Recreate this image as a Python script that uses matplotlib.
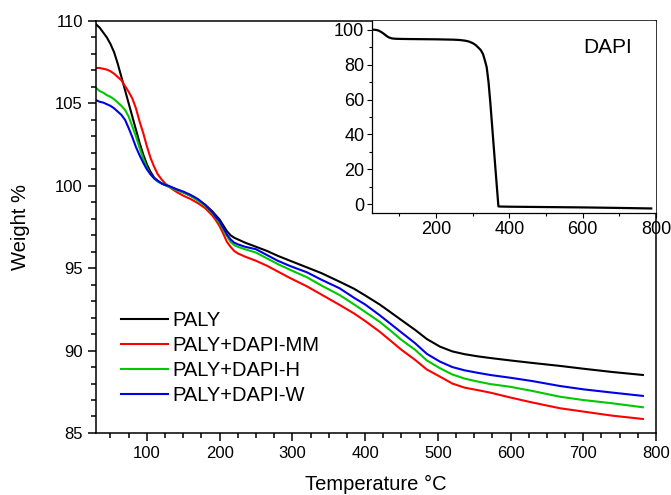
import numpy as np
import matplotlib
matplotlib.use("Agg")
import matplotlib.pyplot as plt
from matplotlib.ticker import MultipleLocator

plt.rcParams['font.family'] = ['Liberation Sans', 'DejaVu Sans']

# TGA curves (temperature in degC, weight in %)
temp = [30, 35, 40, 45, 50, 55, 60, 65, 70, 75, 80, 85, 90, 95, 100, 105, 110,
        115, 120, 125,
        130, 140, 150, 160, 170, 180, 190, 195, 200, 205, 210, 215, 220, 225,
        235, 250, 265, 280, 297,
        320, 340, 365, 385, 400, 420, 434, 450, 469, 485, 503, 520, 537, 555,
        572, 600, 630, 668, 700, 740, 782]

paly = [109.8, 109.6, 109.3, 109.0, 108.6, 108.1, 107.4, 106.6, 105.8, 105.0,
        104.2, 103.4, 102.6, 101.9, 101.3, 100.85, 100.5, 100.3, 100.15, 100.05,
        99.95, 99.8, 99.6, 99.4, 99.15, 98.85, 98.45, 98.2, 97.95, 97.6, 97.25,
        97.0, 96.85, 96.75, 96.55, 96.3, 96.05, 95.75, 95.45,
        95.05, 94.7, 94.18, 93.75, 93.35, 92.8, 92.36, 91.85, 91.25, 90.7, 90.24,
        89.95, 89.78, 89.65, 89.55, 89.4, 89.25, 89.07, 88.9, 88.7, 88.52]

paly_mm = [107.15, 107.15, 107.1, 107.05, 106.95, 106.8, 106.6, 106.4, 106.05,
           105.7, 105.3, 104.7, 103.9, 103.2, 102.4, 101.7, 101.15, 100.7, 100.4,
           100.15,
           99.95, 99.65, 99.4, 99.2, 98.95, 98.65, 98.2, 97.9, 97.55, 97.1, 96.6,
           96.3, 96.05, 95.9, 95.7, 95.45, 95.15, 94.8, 94.4,
           93.9, 93.4, 92.77, 92.25, 91.8, 91.15, 90.64, 90.05, 89.43, 88.85,
           88.42, 88.0, 87.75, 87.6, 87.45, 87.15, 86.85, 86.5, 86.3, 86.05, 85.85]

paly_h = [105.95, 105.75, 105.65, 105.5, 105.4, 105.25, 105.05, 104.85, 104.6,
          104.2, 103.6, 103.0, 102.3, 101.65, 101.1, 100.7, 100.45, 100.25,
          100.15, 100.05,
          99.95, 99.75, 99.6, 99.4, 99.1, 98.8, 98.35, 98.05, 97.75, 97.35, 96.95,
          96.6, 96.4, 96.3, 96.15, 95.95, 95.6, 95.25, 94.9,
          94.45, 93.95, 93.37, 92.8, 92.35, 91.75, 91.25, 90.65, 90.04, 89.4,
          88.93, 88.55, 88.3, 88.12, 87.97, 87.8, 87.55, 87.2, 87.0, 86.8, 86.56]

paly_w = [105.2, 105.1, 105.05, 104.95, 104.85, 104.7, 104.5, 104.3, 104.0,
          103.5, 102.95, 102.35, 101.85, 101.4, 101.0, 100.7, 100.45, 100.3,
          100.15, 100.05,
          100.0, 99.8, 99.65, 99.45, 99.2, 98.85, 98.4, 98.1, 97.85, 97.45, 97.05,
          96.75, 96.55, 96.45, 96.3, 96.15, 95.8, 95.45, 95.13,
          94.75, 94.3, 93.78, 93.2, 92.8, 92.15, 91.66, 91.1, 90.44, 89.8, 89.33,
          89.0, 88.8, 88.65, 88.52, 88.35, 88.15, 87.85, 87.65, 87.45, 87.25]

labels = ['PALY', 'PALY+DAPI-MM', 'PALY+DAPI-H', 'PALY+DAPI-W']
colors = ['black', '#ff0000', '#00c800', '#0000e6']

# inset: DAPI alone
dapi_temp = [25, 30, 35, 40, 45, 50, 55, 60, 65, 70, 75, 80, 90, 110, 150, 200,
             247, 265, 280, 290, 300, 308, 315, 322, 328, 333, 338, 343, 348,
             355, 362, 370, 375, 400, 500, 600, 700, 787]
dapi_w = [100, 100, 99.9, 99.7, 99.3, 98.7, 98.0, 97.2, 96.4, 95.7, 95.3, 95.0,
          94.8, 94.7, 94.6, 94.5, 94.3, 94.1, 93.7, 93.2, 92.3, 91.2, 89.8, 88.3,
          86.0, 82.5, 78.5, 70, 58, 39, 20, -1.2, -1.3, -1.4, -1.6, -1.8, -2.1,
          -2.4]

fig = plt.figure(figsize=(6.71, 4.95), dpi=100)
ax = fig.add_axes([0.143, 0.1253, 0.8346, 0.8323])

for ys, lab, c in zip([paly, paly_mm, paly_h, paly_w], labels, colors):
    ax.plot(temp, ys, color=c, lw=1.5, label=lab)

ax.set_xlim(30, 800)
ax.set_ylim(85, 110)
ax.xaxis.set_major_locator(MultipleLocator(100))
ax.xaxis.set_minor_locator(MultipleLocator(25))
ax.yaxis.set_major_locator(MultipleLocator(5))
ax.yaxis.set_minor_locator(MultipleLocator(1))
ax.tick_params(which='both', direction='out', top=False, right=False,
               width=1.1, labelsize=12)
ax.tick_params(which='major', length=6)
ax.tick_params(which='minor', length=3.5)
for s in ax.spines.values():
    s.set_linewidth(1.1)
ax.set_xlabel('Temperature °C', fontsize=14.5, labelpad=10)
ax.set_ylabel('Weight %', fontsize=14.5, labelpad=18)

ax.legend(loc='upper left', bbox_to_anchor=(0.02, 0.33), frameon=False,
          fontsize=14.5, handlelength=2.3, handletextpad=0.25,
          labelspacing=0.29, borderpad=0.2)

# inset
ins = fig.add_axes([0.5544, 0.5697, 0.4232, 0.3879])
ins.plot(dapi_temp, dapi_w, color='black', lw=1.6)
ins.set_xlim(25, 800)
ins.set_ylim(-5, 105)
ins.xaxis.set_major_locator(MultipleLocator(200))
ins.xaxis.set_minor_locator(MultipleLocator(100))
ins.yaxis.set_major_locator(MultipleLocator(20))
ins.yaxis.set_minor_locator(MultipleLocator(10))
ins.tick_params(which='both', direction='out', top=False, right=False,
                width=0.8, labelsize=13, pad=2)
ins.tick_params(which='major', length=3.5)
ins.tick_params(which='minor', length=2)
ins.spines['top'].set_visible(False)
ins.spines['right'].set_visible(False)
for s in ['left', 'bottom']:
    ins.spines[s].set_linewidth(0.9)
ins.text(0.83, 0.86, 'DAPI', transform=ins.transAxes, fontsize=15,
         ha='center', va='center')

fig.savefig('out.png', dpi=100)
